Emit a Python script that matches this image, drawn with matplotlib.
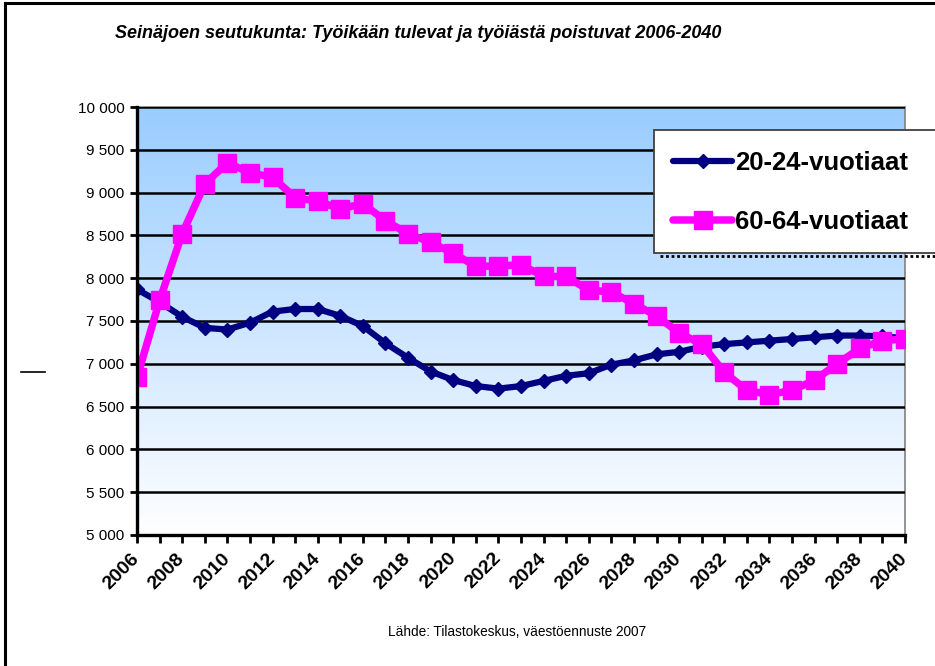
import numpy as np
import matplotlib
matplotlib.use("Agg")
import matplotlib.pyplot as plt
from matplotlib.lines import Line2D
from matplotlib.patches import Rectangle

plt.rcParams['font.family'] = ['Liberation Sans', 'DejaVu Sans']

years = list(range(2006, 2041))
year_labels = [str(y) if y % 2 == 0 else "" for y in years]

young = [7870, 7720, 7550, 7420, 7400, 7480, 7610, 7640, 7640, 7560, 7440,
         7240, 7070, 6910, 6810, 6740, 6710, 6740, 6800, 6860, 6890, 6990,
         7040, 7110, 7140, 7200, 7230, 7250, 7270, 7290, 7310, 7330, 7330,
         7320, 7300]
old = [6840, 7740, 8520, 9100, 9350, 9230, 9180, 8940, 8900, 8810, 8870,
       8670, 8520, 8420, 8290, 8140, 8140, 8160, 8020, 8020, 7860, 7840,
       7700, 7560, 7360, 7230, 6900, 6690, 6640, 6690, 6810, 7000, 7180,
       7270, 7290]
series_names = ["20-24-vuotiaat", "60-64-vuotiaat"]

yticks = list(range(5000, 10001, 500))
ytick_labels = [f"{v:,}".replace(",", " ") for v in yticks]

W, H = 935, 666
fig = plt.figure(figsize=(W / 100, H / 100), dpi=100)
ax = fig.add_axes((137 / W, 1 - 535 / H, (905 - 137) / W, (535 - 107) / H))

# background gradient, light blue at top fading to white
grad = np.linspace(0, 1, 256).reshape(-1, 1)
top = np.array([153, 204, 255]) / 255
bot = np.array([255, 255, 255]) / 255
img = top[None, None, :] * (1 - grad[:, :, None]) + bot[None, None, :] * grad[:, :, None]
ax.imshow(img, extent=[0, 1, 0, 1], transform=ax.transAxes, aspect='auto', zorder=0)

l1, = ax.plot(years, young, color='#000080', lw=4.5, marker='D', ms=7.5,
              zorder=3, solid_capstyle='round', label=series_names[0])
l2, = ax.plot(years, old, color='#FF00FF', lw=5.4, marker='s', ms=12.5,
              zorder=4, solid_capstyle='round', label=series_names[1])

ax.set_xlim(2006, 2040)
ax.set_ylim(5000, 10000)
ax.set_yticks(yticks)
ax.set_yticklabels(ytick_labels, fontsize=11)
ax.set_xticks(years)
ax.set_xticklabels(year_labels, fontsize=14, fontweight='bold', rotation=45,
                   ha='right', va='center', rotation_mode='anchor')
ax.tick_params(axis='x', direction='out', length=6, width=2, pad=9)
ax.tick_params(axis='y', direction='out', length=5, width=2, pad=4)
ax.yaxis.grid(True, color='black', lw=1.8)
ax.set_axisbelow(False)
for gl in ax.yaxis.get_gridlines():
    gl.set_zorder(1)

for s in ['left', 'bottom']:
    ax.spines[s].set_color('black')
    ax.spines[s].set_linewidth(2.4)
    ax.spines[s].set_zorder(5)
for s in ['top', 'right']:
    ax.spines[s].set_color('#808080')
    ax.spines[s].set_linewidth(1.2)

# legend box (runs off the right edge)
box = Rectangle((654 / W, 1 - 253 / H), 300 / W, 123 / H, transform=fig.transFigure,
                facecolor='white', edgecolor='#404040', lw=1.3, zorder=10, clip_on=False)
fig.add_artist(box)
fig.add_artist(Line2D([660 / W, 1], [1 - 256 / H, 1 - 256 / H], transform=fig.transFigure,
                      color='black', lw=2, ls=(0, (1, 1)), zorder=10))
leg = fig.legend(handles=[l1, l2], loc='center left',
                 bbox_to_anchor=(673 / W, 1 - 192.5 / H), bbox_transform=fig.transFigure,
                 frameon=False, borderpad=0, borderaxespad=0, handlelength=2.3,
                 handletextpad=0.12, labelspacing=1.35, numpoints=1,
                 prop={'weight': 'bold', 'size': 18.5})
leg.set_zorder(11)

fig.text(115 / W, 1 - 33 / H,
         "Seinäjoen seutukunta: Työikään tulevat ja työiästä poistuvat 2006-2040",
         fontsize=13, fontweight='bold', fontstyle='italic', va='center', ha='left')
fig.text(517 / W, 1 - 632 / H, "Lähde: Tilastokeskus, väestöennuste 2007",
         fontsize=9.8, ha='center', va='center')

# stray dash at left and figure border
fig.add_artist(Line2D([21 / W, 45 / W], [1 - 372 / H, 1 - 372 / H],
                      transform=fig.transFigure, color='black', lw=1.2))
fig.add_artist(Line2D([5 / W, 5 / W], [0, 1 - 3 / H], transform=fig.transFigure,
                      color='black', lw=2.2))
fig.add_artist(Line2D([5 / W, 1], [1 - 3 / H, 1 - 3 / H], transform=fig.transFigure,
                      color='black', lw=2.2))

fig.savefig("out.png", dpi=100, facecolor='white')
